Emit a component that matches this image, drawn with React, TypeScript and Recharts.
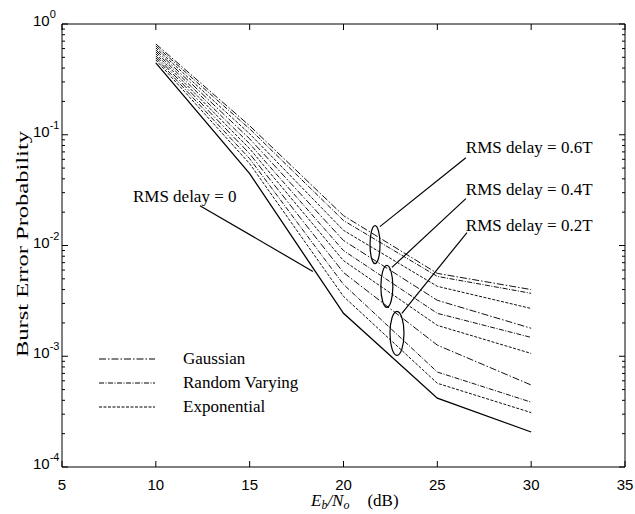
import {
  LineChart,
  Line,
  XAxis,
  YAxis,
  ReferenceDot,
  ReferenceLine,
} from "recharts";

// Eb/No points (dB)
const X_VALUES = [10, 15, 20, 25, 30];

// burst error probability
const DELAY_0 = [0.445, 0.0445, 0.00244, 0.000418, 0.000207];
const GAUSS_06 = [0.66, 0.1205, 0.0186, 0.0056, 0.004];
const RANDOM_06 = [0.634, 0.113, 0.0168, 0.00526, 0.0037];
const EXP_06 = [0.608, 0.102, 0.0137, 0.00428, 0.0027];
const GAUSS_04 = [0.583, 0.092, 0.0111, 0.0032, 0.00179];
const RANDOM_04 = [0.56, 0.083, 0.009, 0.00244, 0.00148];
const EXP_04 = [0.537, 0.0748, 0.0073, 0.0019, 0.00106];
const GAUSS_02 = [0.515, 0.0674, 0.0057, 0.00126, 0.00055];
const RANDOM_02 = [0.494, 0.0608, 0.00445, 0.00072, 0.000385];
const EXP_02 = [0.474, 0.0548, 0.00347, 0.00057, 0.00031];

const X_TICKS = [5, 10, 15, 20, 25, 30, 35];
const Y_MAJOR = [1e-4, 1e-3, 1e-2, 1e-1, 1];
const Y_EXPONENTS = ["-4", "-3", "-2", "-1", "0"];

const Y_TICKS: number[] = [];
Y_MAJOR.forEach((d, i) => {
  Y_TICKS.push(d);
  if (i < Y_MAJOR.length - 1) {
    for (let m = 2; m <= 9; m++) Y_TICKS.push(d * m);
  }
});

const DASH = {
  gauss: "7 2 1.5 2",
  random: "5 1.5 1 1.5",
  exp: "3 1.5",
};

const SERIES = [
  { key: "g06", values: GAUSS_06, dash: DASH.gauss },
  { key: "r06", values: RANDOM_06, dash: DASH.random },
  { key: "e06", values: EXP_06, dash: DASH.exp },
  { key: "g04", values: GAUSS_04, dash: DASH.gauss },
  { key: "r04", values: RANDOM_04, dash: DASH.random },
  { key: "e04", values: EXP_04, dash: DASH.exp },
  { key: "g02", values: GAUSS_02, dash: DASH.gauss },
  { key: "r02", values: RANDOM_02, dash: DASH.random },
  { key: "e02", values: EXP_02, dash: DASH.exp },
];

const data = X_VALUES.map((x, i) => {
  const row: Record<string, number> = { x, d0: DELAY_0[i] };
  SERIES.forEach((s) => (row[s.key] = s.values[i]));
  return row;
});

const LEGEND_ITEMS = [
  { label: "Gaussian", dash: DASH.gauss },
  { label: "Random Varying", dash: DASH.random },
  { label: "Exponential", dash: DASH.exp },
];

// annotations, in data coordinates
const LABELS = [
  { x: 26.52, y: 0.0689, text: "RMS delay = 0.6T" },
  { x: 26.52, y: 0.0288, text: "RMS delay = 0.4T" },
  { x: 26.52, y: 0.0134, text: "RMS delay = 0.2T" },
  { x: 8.78, y: 0.0249, text: "RMS delay = 0" },
];

const LEADERS = [
  [{ x: 26.52, y: 0.0621 }, { x: 21.94, y: 0.0148 }],
  [{ x: 26.52, y: 0.0265 }, { x: 22.58, y: 0.00634 }],
  [{ x: 26.58, y: 0.0131 }, { x: 23.11, y: 0.00244 }],
  [{ x: 12.35, y: 0.0229 }, { x: 18.37, y: 0.00583 }],
];

const ELLIPSES = [
  { x: 21.68, y: 0.0102, rx: 5, ry: 19 },
  { x: 22.31, y: 0.00427, rx: 6, ry: 21 },
  { x: 22.85, y: 0.00161, rx: 7, ry: 22 },
];

const SANS = "'Liberation Sans', Arial, sans-serif";
const SERIF = "'Liberation Serif', 'Times New Roman', serif";

const majorIndex = (v: number) => Y_MAJOR.findIndex((m) => Math.abs(m - v) / m < 1e-6);

const LeftTick = (props: any) => {
  const { x, y, payload } = props;
  const idx = majorIndex(payload.value);
  const major = idx >= 0;
  return (
    <g>
      <line x1={x} x2={x + (major ? 6 : 3)} y1={y} y2={y} stroke="#000" />
      {major && (
        <text x={x - 29} y={y + 2} fontFamily={SANS} fontSize={15} fill="#000">
          10
          <tspan dy={-8} fontSize={11}>
            {Y_EXPONENTS[idx]}
          </tspan>
        </text>
      )}
    </g>
  );
};

const RightTick = (props: any) => {
  const { x, y, payload } = props;
  const major = majorIndex(payload.value) >= 0;
  return <line x1={x} x2={x - (major ? 6 : 3)} y1={y} y2={y} stroke="#000" />;
};

const BottomTick = (props: any) => {
  const { x, y, payload } = props;
  return (
    <g>
      <line x1={x} x2={x} y1={y} y2={y - 6} stroke="#000" />
      <text x={x} y={y + 23} textAnchor="middle" fontFamily={SANS} fontSize={15} fill="#000">
        {payload.value}
      </text>
    </g>
  );
};

const TopTick = (props: any) => {
  const { x, y } = props;
  return <line x1={x} x2={x} y1={y} y2={y + 6} stroke="#000" />;
};

const LegendBox = () => (
  <div
    style={{
      position: "absolute",
      left: 99,
      top: 347,
      fontFamily: SERIF,
      fontSize: 17,
      color: "#000",
    }}
  >
    {LEGEND_ITEMS.map((it) => (
      <div key={it.label} style={{ display: "flex", alignItems: "center", height: 24 }}>
        <svg width={84} height={10}>
          <line x1={0} x2={56} y1={5} y2={5} stroke="#000" strokeDasharray={it.dash} />
        </svg>
        <span>{it.label}</span>
      </div>
    ))}
  </div>
);

export default function App() {
  return (
    <div style={{ position: "absolute", left: 0, top: 0, width: 635, height: 514, background: "#fff" }}>
      <LineChart
        width={635}
        height={514}
        data={data}
        margin={{ top: 0, right: 0, bottom: 0, left: 0 }}
      >
        <XAxis
          xAxisId="bottom"
          dataKey="x"
          type="number"
          domain={[5, 35]}
          ticks={X_TICKS}
          interval={0}
          height={47}
          tickSize={0}
          tickMargin={0}
          tickLine={false}
          tick={<BottomTick />}
          stroke="#000"
        />
        <XAxis
          xAxisId="top"
          orientation="top"
          dataKey="x"
          type="number"
          domain={[5, 35]}
          ticks={X_TICKS}
          interval={0}
          height={24}
          tickSize={0}
          tickMargin={0}
          tickLine={false}
          tick={<TopTick />}
          stroke="#000"
        />
        <YAxis
          yAxisId="left"
          scale="log"
          type="number"
          domain={[1e-4, 1]}
          allowDataOverflow
          ticks={Y_TICKS}
          interval={0}
          width={62}
          tickSize={0}
          tickMargin={0}
          tickLine={false}
          tick={<LeftTick />}
          stroke="#000"
        />
        <YAxis
          yAxisId="right"
          orientation="right"
          scale="log"
          type="number"
          domain={[1e-4, 1]}
          allowDataOverflow
          ticks={Y_TICKS}
          interval={0}
          width={10}
          tickSize={0}
          tickMargin={0}
          tickLine={false}
          tick={<RightTick />}
          stroke="#000"
        />

        <Line
          xAxisId="bottom"
          yAxisId="left"
          dataKey="d0"
          stroke="#000"
          strokeWidth={1.3}
          dot={false}
          isAnimationActive={false}
        />
        {SERIES.map((s) => (
          <Line
            key={s.key}
            xAxisId="bottom"
            yAxisId="left"
            dataKey={s.key}
            stroke="#111"
            strokeWidth={1}
            strokeDasharray={s.dash}
            dot={false}
            isAnimationActive={false}
          />
        ))}

        {LEADERS.map((seg, i) => (
          <ReferenceLine
            key={`lead-${i}`}
            xAxisId="bottom"
            yAxisId="left"
            segment={seg}
            stroke="#000"
            strokeWidth={1.2}
            ifOverflow="visible"
          />
        ))}
        {ELLIPSES.map((e, i) => (
          <ReferenceDot
            key={`ell-${i}`}
            xAxisId="bottom"
            yAxisId="left"
            x={e.x}
            y={e.y}
            ifOverflow="visible"
            shape={(p: any) => (
              <ellipse cx={p.cx} cy={p.cy} rx={e.rx} ry={e.ry} fill="none" stroke="#000" strokeWidth={1.2} />
            )}
          />
        ))}
        {LABELS.map((l, i) => (
          <ReferenceDot
            key={`lab-${i}`}
            xAxisId="bottom"
            yAxisId="left"
            x={l.x}
            y={l.y}
            ifOverflow="visible"
            shape={(p: any) => (
              <text x={p.cx} y={p.cy} fontFamily={SERIF} fontSize={17} fill="#000">
                {l.text}
              </text>
            )}
          />
        ))}

        <text
          x={22}
          y={244}
          transform="rotate(-90 22 244)"
          textAnchor="middle"
          dominantBaseline="central"
          fontFamily={SERIF}
          fontSize={17}
          textLength={226}
          lengthAdjust="spacingAndGlyphs"
          fill="#000"
        >
          Burst Error Probability
        </text>
        <text x={311} y={506} fontFamily={SERIF} fontSize={17} fill="#000">
          <tspan fontStyle="italic">E</tspan>
          <tspan fontStyle="italic" fontSize={12} dy={3}>b</tspan>
          <tspan fontStyle="italic" dy={-3}>/N</tspan>
          <tspan fontStyle="italic" fontSize={12} dy={3}>o</tspan>
          <tspan dy={-3} dx={18}>(dB)</tspan>
        </text>
      </LineChart>
      <LegendBox />
    </div>
  );
}
